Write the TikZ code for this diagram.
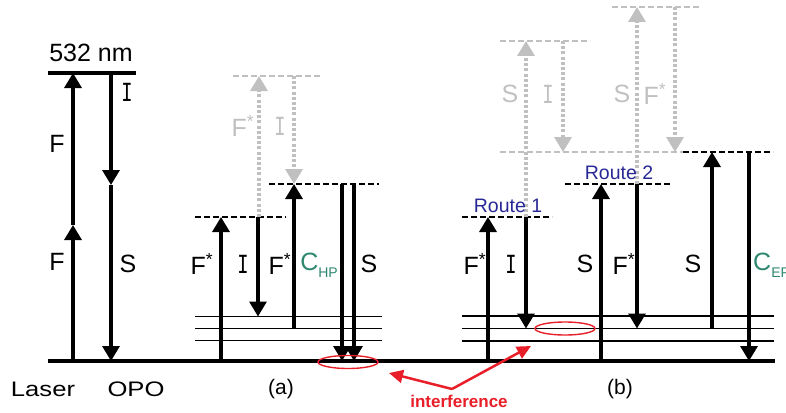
\documentclass[tikz,border=0pt]{standalone}
\usepackage{fontspec}
\setmainfont{Liberation Sans}
\newfontfamily\serifI{DejaVu Sans Mono}
\usetikzlibrary{arrows.meta}
\definecolor{lgray}{RGB}{192,192,192}
\definecolor{teal2}{RGB}{45,135,110}
\definecolor{navy2}{RGB}{40,40,150}
\definecolor{red2}{RGB}{232,30,40}
\newcommand{\subtxt}[1]{\raisebox{-0.28em}{\fontsize{14}{14}\selectfont #1}}
\newcommand{\wide}[1]{\scalebox{1.22}[1]{#1}}
\newcommand{\barI}{\scalebox{0.75}[1]{\serifI I}}
\begin{document}
\begin{tikzpicture}[x=1pt,y=-1pt,
  arr/.style={line width=3.3pt,-{Triangle[width=17pt,length=15pt]}},
  garr/.style={lgray,line width=3.3pt,dash pattern=on 3pt off 2.2pt,-{Triangle[width=17pt,length=15pt]}},
  ground/.style={line width=3.2pt},
  thin/.style={line width=1.7pt},
  lev/.style={line width=1.6pt,dash pattern=on 6pt off 3pt},
  glev/.style={lgray,line width=1.6pt,dash pattern=on 6pt off 3pt},
  lab/.style={font=\fontsize{25}{30}\selectfont},
  glab/.style={lab,text=lgray},
  small/.style={font=\fontsize{21}{25}\selectfont},
  route/.style={font=\fontsize{19.5}{22}\selectfont,text=navy2},
  ell/.style={red2,line width=1.4pt},
  rarr/.style={red2,line width=2.5pt,-{Triangle[width=13pt,length=14pt]}}
]
\useasboundingbox (0,0) rectangle (786,412);
\begin{scope}
\clip (0,0) rectangle (786,412);
% ground and levels
\draw[ground] (48,361) -- (775,361);
\draw[ground] (48,73) -- (136,73);
% Laser / OPO
\draw[arr] (73,361) -- (73,225);
\draw[arr] (73,225) -- (73,73);
\draw[arr] (111,73) -- (111,185);
\draw[arr] (111,185) -- (111,361);
\node[lab] (nm) at (91,53) {532 nm};
\node[lab] (lF1) at (57,144) {F};
\node[lab] (lF2) at (57,262) {F};
\node[lab] (lI0) at (127,92) {\barI};
\node[lab] (lS0) at (128,264) {S};
\node[small] (laser) at (43,389) {\wide{Laser}};
\node[small] (opo) at (136,389) {\wide{OPO}};
% (a)
\foreach \y in {316.5,328.5,340.5} \draw[thin] (195,\y) -- (382,\y);
\draw[lev] (195,217) -- (286,217);
\draw[glev] (233,76) -- (320,76);
\draw[lev] (269,184) -- (379,184);
\draw[garr] (259,217) -- (259,76);
\draw[garr] (294,76) -- (294,184);
\draw[arr] (221,361) -- (221,217);
\draw[arr] (258,217) -- (258,316.5);
\draw[arr] (294,328.5) -- (294,184);
\draw[arr] (342,184) -- (342,361);
\draw[arr] (354,184) -- (354,361);
\draw[ell] (348,362) ellipse (30pt and 6.5pt);
\node[glab] (gaF) at (243,126) {F\textsuperscript{*}};
\node[glab] (gaI) at (280,126) {\barI};
\node[lab] (aF1) at (202,264) {F\textsuperscript{*}};
\node[lab] (aI) at (243,264) {\barI};
\node[lab] (aF2) at (280,264) {F\textsuperscript{*}};
\node[lab,text=teal2] (aC) at (319,265) {C\subtxt{HP}};
\node[lab] (aS) at (369,264) {S};
\node[small] (la) at (281,389) {(a)};
% (b)
\foreach \y in {316,328.5,341} \draw[thin] (462,\y) -- (774,\y);
\draw[lev] (462,217) -- (552,217);
\draw[lev] (565,184) -- (672,184);
\draw[glev] (500,41) -- (590,41);
\draw[glev] (612,7) -- (700,7);
\draw[glev] (500,152) -- (683,152);
\draw[lev] (683,152) -- (773,152);
\draw[garr] (526,217) -- (526,41);
\draw[garr] (563,41) -- (563,152);
\draw[garr] (637,184) -- (637,7);
\draw[garr] (675,7) -- (675,152);
\draw[arr] (488,361) -- (488,217);
\draw[arr] (526,217) -- (526,328.5);
\draw[arr] (601,361) -- (601,184);
\draw[arr] (637,184) -- (637,328.5);
\draw[arr] (712,328.5) -- (712,152);
\draw[arr] (749,152) -- (749,361);
\draw[ell] (565,328.5) ellipse (30pt and 6.5pt);
\node[route] (r1) at (508,206) {Route 1};
\node[route] (r2) at (619,173) {Route 2};
\node[glab] (gbS1) at (510,94) {S};
\node[glab] (gbI) at (548,94) {\barI};
\node[glab] (gbS2) at (622,94) {S};
\node[glab] (gbF) at (655,94) {F\textsuperscript{*}};
\node[lab] (bF1) at (475,264) {F\textsuperscript{*}};
\node[lab] (bI) at (511,264) {\barI};
\node[lab] (bS1) at (585,264) {S};
\node[lab] (bF2) at (624,264) {F\textsuperscript{*}};
\node[lab] (bS2) at (693,264) {S};
\node[lab,text=teal2,anchor=west,inner sep=0pt] (bC) at (753,265) {C\subtxt{EP}};
\node[small] (lb) at (620,389) {(b)};
% interference
\node[font=\bfseries\fontsize{17}{20}\selectfont,text=red2] (intf) at (459,401) {interference};
\coordinate (vtx) at (452,389);
\coordinate (ta) at (389,373);
\coordinate (tb) at (531,346);
\draw[rarr] (vtx) -- (ta);
\draw[rarr] (vtx) -- (tb);
\end{scope}
\end{tikzpicture}
\end{document}
